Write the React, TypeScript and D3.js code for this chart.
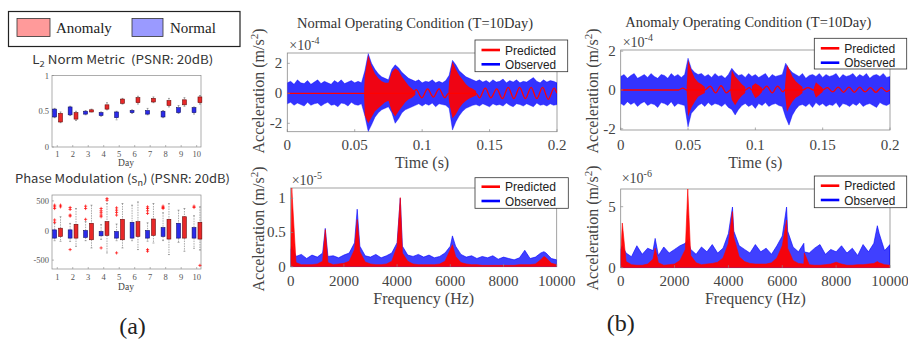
import React from 'react';
import * as d3 from 'd3';

const SERIF = '"Liberation Serif", "Times New Roman", serif';
const SANS = '"Noto Sans CJK KR", "Noto Sans", "DejaVu Sans", sans-serif';
const LSANS = '"Liberation Sans", Arial, sans-serif';

// ---------- (a) box plots ----------
const DAYS = [1, 2, 3, 4, 5, 6, 7, 8, 9, 10];
const DAY_LABELS = ['1', '2', '3', '4', '5', '6', '7', '8', '9', '10'];

const l2NormLo = [0.42, 0.45, 0.46, 0.44, 0.41, 0.48, 0.46, 0.42, 0.48, 0.48];
const l2NormHi = [0.53, 0.56, 0.5, 0.48, 0.49, 0.51, 0.51, 0.5, 0.55, 0.55];
const l2NormWLo = [0.41, 0.44, 0.45, 0.43, 0.38, 0.47, 0.45, 0.41, 0.47, 0.46];
const l2NormWHi = [0.54, 0.57, 0.51, 0.49, 0.5, 0.52, 0.54, 0.51, 0.58, 0.56];
const l2AnomLo = [0.35, 0.39, 0.49, 0.53, 0.61, 0.62, 0.63, 0.58, 0.59, 0.62];
const l2AnomHi = [0.47, 0.48, 0.52, 0.59, 0.67, 0.69, 0.68, 0.65, 0.66, 0.7];
const l2AnomWLo = [0.34, 0.37, 0.49, 0.52, 0.6, 0.6, 0.62, 0.56, 0.57, 0.6];
const l2AnomWHi = [0.49, 0.5, 0.53, 0.62, 0.68, 0.71, 0.7, 0.68, 0.69, 0.72];
const l2Ticks = [0, 0.5, 1];
const l2TickLabels = ['0', '0.5', '1'];

const phNormLo = [-128, -128, -117, -89, -128, -128, -128, -100, -128, -128];
const phNormHi = [11, 11, 0, -17, -17, 139, 0, 50, 122, 50];
const phNormWLo = [-172, -183, -172, -150, -172, -172, -180, -170, -200, -300];
const phNormWHi = [122, 120, 150, 100, 110, 428, 130, 300, 344, 250];
const phAnomLo = [-100, -128, -156, -83, -156, -100, -83, -144, -128, -144];
const phAnomHi = [39, 105, 122, 150, 189, 150, 194, 189, 233, 139];
const phAnomWLo = [-183, -267, -294, -378, -294, -322, -211, -406, -350, -330];
const phAnomWHi = [233, 372, 428, 456, 456, 483, 456, 456, 372, 400];
// [day, group (0 normal, 1 anomaly), value]
const phOutliers: [number, number, number][] = [
  [1, 0, 428], [1, 0, 400], [1, 0, 372], [1, 0, 178], [1, 0, 139], [1, 1, 428], [1, 1, 400],
  [2, 0, 389], [2, 0, 356], [2, 0, 261], [2, 0, 244], [2, 0, -322],
  [3, 0, 411], [3, 0, 372], [3, 0, 189],
  [4, 0, 372], [4, 0, 333], [4, 0, 300], [4, 0, 261], [4, 0, 233], [4, 0, -294], [4, 1, 539], [4, 1, 511],
  [5, 0, 383], [5, 0, 344], [5, 0, 306], [5, 0, 261], [5, 0, -378],
  [7, 0, 400], [7, 0, 372], [7, 0, 333], [7, 0, 289], [7, 0, -322], [7, 0, -350],
  [8, 0, 411], [8, 0, 389], [8, 0, 372],
  [10, 0, 411], [10, 0, 389], [10, 1, -589],
];
const phTicks = [-500, 0, 500];
const phTickLabels = ['-500', '0', '500'];

// ---------- (b) time signals, units 1e-4, sampled every TIME_STEP ----------
const TIME_STEP = 0.0025;
const timeTicks = [0, 0.05, 0.1, 0.15, 0.2];
const timeTickLabels = ['0', '0.05', '0.1', '0.15', '0.2'];

const normObsHi = [
  0.7, 0.8, 0.6, 0.9, 0.7, 0.65, 0.85, 0.6, 0.75, 0.9,
  0.65, 0.8, 0.7, 0.6, 0.85, 0.7, 0.9, 0.65, 0.75, 0.85,
  0.7, 0.8, 0.7, 1.5, 2.65, 2.0, 1.6, 1.3, 1.1, 1.0,
  0.9, 1.6, 1.9, 1.7, 1.4, 1.2, 1.0, 0.9, 0.8, 0.9,
  0.7, 0.8, 0.75, 0.9, 0.7, 0.8, 0.7, 0.85, 1.2, 2.2,
  1.9, 1.5, 1.3, 1.1, 1.0, 0.9, 0.8, 0.9, 0.75, 0.85,
  0.7, 0.9, 0.75, 0.8, 0.95, 0.7, 0.85, 0.75, 0.9, 0.7,
  0.8, 0.75, 0.9, 1.05, 0.8, 0.7, 0.9, 0.75, 0.85, 0.8, 0.7,
];
const normObsLo = [
  -0.7, -0.6, -0.8, -0.65, -0.75, -0.85, -0.6, -0.8, -0.7, -0.65,
  -0.85, -0.7, -0.6, -0.8, -0.75, -0.9, -0.65, -0.7, -0.85, -0.6,
  -0.75, -0.8, -0.7, -1.5, -2.55, -2.1, -1.6, -1.3, -1.1, -1.0,
  -0.9, -1.3, -2.0, -1.7, -1.3, -1.1, -1.0, -0.9, -0.8, -0.7,
  -0.85, -0.7, -0.8, -0.65, -0.9, -0.7, -0.75, -0.8, -1.0, -2.45,
  -1.9, -1.5, -1.2, -1.0, -0.9, -0.8, -0.75, -0.85, -0.7, -0.8,
  -0.9, -0.7, -0.8, -0.75, -0.85, -0.65, -0.8, -0.9, -0.7, -0.75,
  -0.85, -0.7, -0.8, -0.9, -0.65, -0.8, -0.75, -0.85, -0.7, -0.8, -0.75,
];
// predicted bursts: [t, upper, lower], null separates bursts
const normPredBand: ([number, number, number] | null)[] = [
  [0.057, 0.3, -0.3], [0.0575, 1.2, -1.5], [0.06, 2.55, -2.0], [0.0625, 1.8, -1.6], [0.065, 1.3, -1.2],
  [0.0675, 1.0, -1.0], [0.07, 0.8, -0.8], [0.0725, 0.7, -0.6], [0.075, 0.7, -0.5], [0.0775, 1.4, -1.2],
  [0.08, 1.67, -1.55], [0.0825, 1.5, -1.2], [0.085, 1.1, -0.9], [0.0875, 0.8, -0.6], [0.09, 0.5, -0.4],
  [0.0925, 0.3, -0.3], [0.095, 0.1, -0.1], null,
  [0.1195, 0.1, -0.1], [0.12, 0.8, -0.6], [0.1225, 2.1, -1.67], [0.125, 1.6, -1.4], [0.1275, 1.2, -1.0],
  [0.13, 0.9, -0.7], [0.1325, 0.6, -0.5], [0.135, 0.4, -0.35], [0.1375, 0.3, -0.25], [0.14, 0.15, -0.15],
];
// predicted low-frequency wave: [t, value] at its turning points
const normPredWave: [number, number][] = [
  [0, 0], [0.057, 0], [0.093, 0], [0.0955, 0.25], [0.0998, -0.3], [0.104, 0.3], [0.1083, -0.25],
  [0.1125, 0.3], [0.1168, -0.3], [0.1195, 0], [0.14, 0], [0.1425, -0.3], [0.1468, 0.35], [0.151, -0.3],
  [0.1553, 0.3], [0.1595, -0.35], [0.1638, 0.4], [0.168, -0.35], [0.1723, 0.4], [0.1765, -0.35],
  [0.1808, 0.4], [0.185, -0.35], [0.1893, 0.4], [0.1935, -0.4], [0.1978, 0.35], [0.2, 0],
];

const anomObsHi = [
  0.7, 0.8, 0.6, 0.75, 0.85, 0.6, 0.7, 0.8, 0.65, 0.85,
  0.7, 0.6, 0.8, 0.75, 0.6, 0.85, 0.7, 0.8, 0.65, 0.8,
  1.64, 1.1, 0.9, 0.8, 0.85, 0.7, 0.8, 0.65, 0.85, 0.7,
  0.75, 0.6, 0.8, 1.12, 0.9, 0.75, 0.8, 0.65, 0.85, 0.7,
  0.8, 0.65, 0.75, 0.85, 0.6, 0.8, 0.7, 0.75, 0.8, 1.38,
  1.1, 0.9, 0.8, 0.7, 0.85, 0.6, 0.75, 0.8, 0.7, 0.85,
  0.65, 0.8, 0.7, 0.75, 0.85, 0.6, 0.8, 0.7, 0.75, 0.85,
  0.65, 0.8, 0.7, 0.85, 0.6, 0.75, 0.8, 0.7, 0.85, 0.65, 0.7,
];
const anomObsLo = [
  -0.7, -0.8, -0.6, -0.75, -0.65, -0.85, -0.7, -0.6, -0.8, -0.7,
  -0.75, -0.9, -0.65, -0.7, -0.8, -0.6, -0.85, -0.7, -0.75, -0.8,
  -1.9, -1.2, -1.0, -0.8, -0.7, -0.85, -0.65, -0.8, -0.7, -0.75,
  -0.85, -0.7, -0.9, -1.0, -1.29, -1.0, -0.8, -0.7, -0.85, -0.75,
  -0.95, -0.7, -0.8, -0.65, -0.85, -0.75, -0.7, -0.8, -0.85, -1.4,
  -1.81, -1.3, -1.0, -0.8, -0.75, -0.85, -0.7, -0.9, -0.65, -0.8,
  -0.7, -0.85, -0.75, -0.8, -0.65, -0.9, -0.7, -0.75, -0.85, -0.7,
  -0.8, -0.65, -0.85, -0.75, -0.7, -0.8, -0.9, -0.65, -0.75, -0.8, -0.7,
];
const anomPredBand: ([number, number, number] | null)[] = [
  [0.049, 0.2, -0.1], [0.0495, 0.8, -0.6], [0.05, 1.55, -1.38], [0.0525, 1.0, -0.9], [0.055, 0.6, -0.6],
  [0.0575, 0.4, -0.35], [0.06, 0.3, -0.25], [0.0625, 0.15, -0.15], null,
  [0.0815, 0.1, -0.1], [0.0825, 1.03, -0.5], [0.085, 0.7, -0.78], [0.0875, 0.5, -0.5], [0.09, 0.3, -0.3],
  [0.0925, 0.15, -0.15], null,
  [0.0975, 0.2, -0.1], [0.1, 0.35, -0.43], [0.1025, 0.25, -0.3], [0.105, 0.1, -0.1], null,
  [0.122, 0.2, -0.2], [0.1235, 1.29, -1.12], [0.125, 1.1, -0.9], [0.1275, 0.7, -0.6], [0.13, 0.45, -0.4],
  [0.1325, 0.3, -0.3], [0.135, 0.15, -0.15], null,
  [0.1435, 0.1, -0.1], [0.145, 0.4, -0.4], [0.1475, 0.25, -0.25], [0.15, 0.1, -0.1],
];
const anomPredWave: [number, number][] = [
  [0, 0], [0.043, 0], [0.046, 0.1], [0.049, 0], [0.0625, 0], [0.0665, 0.2], [0.0705, -0.15], [0.0745, 0.22],
  [0.0785, -0.15], [0.0815, 0], [0.0925, 0], [0.0955, 0.12], [0.0975, 0], [0.105, 0], [0.1085, 0.2],
  [0.1125, -0.15], [0.1165, 0.2], [0.1205, -0.1], [0.122, 0], [0.135, 0], [0.139, 0.12], [0.1435, 0],
  [0.15, 0], [0.1535, 0.12], [0.1575, -0.1], [0.1615, 0.15], [0.1655, -0.12], [0.1695, 0.15],
  [0.1735, -0.12], [0.1775, 0.15], [0.1815, -0.1], [0.1855, 0.12], [0.1895, -0.12], [0.1935, 0.12],
  [0.1975, -0.08], [0.2, 0],
];

// ---------- (b) spectra, sampled every FREQ_STEP Hz plus resonance peaks ----------
const FREQ_STEP = 200;
const freqTicks = [0, 2000, 4000, 6000, 8000, 10000];
const freqTickLabels = ['0', '2000', '4000', '6000', '8000', '10000'];

// normal, units 1e-5
const normSpecObs = [
  0.25, 0.15, 0.18, 0.12, 0.17, 0.14, 0.2, 0.15, 0.16, 0.13,
  0.17, 0.2, 0.35, 0.3, 0.16, 0.14, 0.18, 0.13, 0.16, 0.2,
  0.35, 0.3, 0.17, 0.15, 0.18, 0.14, 0.17, 0.13, 0.15, 0.2,
  0.3, 0.3, 0.18, 0.14, 0.16, 0.12, 0.15, 0.13, 0.16, 0.11,
  0.14, 0.12, 0.1, 0.13, 0.24, 0.12, 0.14, 0.2, 0.2, 0.12, 0.1,
];
const normSpecPred = [
  0.1, 0.06, 0.03, 0.03, 0.03, 0.04, 0.08, 0.06, 0.03, 0.04,
  0.05, 0.08, 0.25, 0.22, 0.07, 0.04, 0.03, 0.03, 0.04, 0.08,
  0.3, 0.2, 0.08, 0.04, 0.03, 0.03, 0.03, 0.03, 0.04, 0.08,
  0.25, 0.15, 0.06, 0.04, 0.03, 0.03, 0.02, 0.02, 0.02, 0.02,
  0.02, 0.02, 0.02, 0.03, 0.03, 0.03, 0.04, 0.1, 0.13, 0.05, 0.03,
];
const normPeakF = [40, 1300, 2500, 4120, 6080, 9520];
const normPeakObs = [0.3, 0.56, 0.84, 1.0, 0.45, 0.22];
const normPeakPred = [1.15, 0.54, 0.69, 1.01, 0.32, 0.15];

// anomaly, units 1e-6
const anomSpecObs = [
  1.5, 1.2, 0.9, 1.8, 1.1, 1.6, 1.4, 1.0, 1.7, 1.2,
  1.5, 1.8, 2.0, 1.5, 1.1, 1.7, 1.3, 1.9, 1.2, 1.6,
  2.8, 3.0, 1.8, 1.5, 1.2, 1.9, 1.3, 1.6, 1.1, 1.8,
  2.6, 3.0, 1.7, 1.3, 2.0, 1.2, 1.6, 1.9, 1.1, 1.5,
  1.3, 1.8, 1.2, 1.6, 1.0, 1.9, 1.3, 2.0, 2.8, 1.4, 1.9,
];
const anomSpecPred = [
  0.9, 0.5, 0.25, 0.2, 0.2, 0.3, 0.7, 0.4, 0.2, 0.25,
  0.3, 0.6, 1.5, 1.0, 0.4, 0.25, 0.3, 0.35, 0.45, 0.8,
  2.0, 2.5, 0.9, 0.5, 0.35, 0.3, 0.3, 0.3, 0.4, 0.8,
  1.8, 1.6, 0.6, 0.35, 0.3, 0.25, 0.2, 0.2, 0.25, 0.3,
  0.45, 0.3, 0.2, 0.2, 0.25, 0.25, 0.3, 0.35, 0.4, 0.25, 0.2,
];
const anomPeakF = [60, 1280, 2490, 4150, 6160, 6820, 9530];
const anomPeakObs = [1.8, 2.4, 2.3, 4.97, 4.97, 1.3, 3.44];
const anomPeakPred = [3.66, 1.6, 6.45, 4.6, 3.9, 1.2, 0.5];

const RED = '#ff0000';
const BLUE = '#0000ff';
const AXIS = '#8a8a8a';

// ---------------- components ----------------
function BoxPanel(p: any) {
  const x = d3.scaleLinear().domain([0.66, 10.28]).range([52, 201]);
  const y = d3.scaleLinear().domain(p.yDomain).range([p.py1, p.py0]);
  const bw = x(0.25) - x(0);
  const offN = -0.17;
  const offA = 0.21;
  const box = (d: number, off: number, lo: number, hi: number, wlo: number, whi: number, fill: string, edge: string, k: string) => {
    const cx = x(d + off);
    return (
      <g key={k}>
        <line x1={cx} x2={cx} y1={y(whi)} y2={y(hi)} stroke="#555" strokeWidth={0.5} strokeDasharray="1.5,1" />
        <line x1={cx} x2={cx} y1={y(lo)} y2={y(wlo)} stroke="#555" strokeWidth={0.5} strokeDasharray="1.5,1" />
        <line x1={cx - bw * 0.25} x2={cx + bw * 0.25} y1={y(whi)} y2={y(whi)} stroke="#555" strokeWidth={0.5} />
        <line x1={cx - bw * 0.25} x2={cx + bw * 0.25} y1={y(wlo)} y2={y(wlo)} stroke="#555" strokeWidth={0.5} />
        <rect x={cx - bw / 2} y={y(hi)} width={bw} height={Math.max(1, y(lo) - y(hi))} fill={fill} stroke={edge} strokeWidth={0.6} />
      </g>
    );
  };
  return (
    <g>
      <rect x={52} y={p.py0} width={149} height={p.py1 - p.py0} fill="white" stroke={AXIS} strokeWidth={0.7} />
      {p.yTicks.map((t: number, i: number) => (
        <g key={'yt' + i}>
          <line x1={52} x2={54} y1={y(t)} y2={y(t)} stroke={AXIS} strokeWidth={0.6} />
          <text x={49} y={y(t) + 3} textAnchor="end" fontFamily={SERIF} fontSize={8.5} fill="#555">{p.yTickLabels[i]}</text>
        </g>
      ))}
      {DAYS.map((d, i) => (
        <g key={'xt' + i}>
          <line x1={x(d)} x2={x(d)} y1={p.py1} y2={p.py1 - 2} stroke={AXIS} strokeWidth={0.6} />
          <text x={x(d)} y={p.tickY} textAnchor="middle" fontFamily={SERIF} fontSize={8.5} fill="#555">{DAY_LABELS[i]}</text>
        </g>
      ))}
      {DAYS.map((d, i) => box(d, offN, p.nLo[i], p.nHi[i], p.nWLo[i], p.nWHi[i], '#2b2bea', '#10106a', 'n' + i))}
      {DAYS.map((d, i) => box(d, offA, p.aLo[i], p.aHi[i], p.aWLo[i], p.aWHi[i], '#e82828', '#6a0b0b', 'a' + i))}
      {(p.outliers || []).map((o: [number, number, number], i: number) => {
        const cx = x(o[0] + (o[1] === 0 ? offN : offA));
        const cy = y(o[2]);
        return <path key={'o' + i} d={`M${cx - 1.6},${cy}h3.2M${cx},${cy - 1.6}v3.2`} stroke={RED} strokeWidth={0.7} />;
      })}
      <text x={126} y={p.dayY} textAnchor="middle" fontFamily={SERIF} fontSize={9.5} fill="#444">Day</text>
    </g>
  );
}

function Legend({ x0, y0, x1, y1, l1, l2, t1, t2 }: any) {
  return (
    <g>
      <rect x={x0} y={y0} width={x1 - x0} height={y1 - y0} fill="white" stroke="#333" strokeWidth={0.8} />
      <line x1={x0 + 6.5} x2={x0 + 25} y1={l1} y2={l1} stroke={RED} strokeWidth={2.6} />
      <line x1={x0 + 6.5} x2={x0 + 25} y1={l2} y2={l2} stroke={BLUE} strokeWidth={2.6} />
      <text x={x0 + 30} y={t1} fontFamily={LSANS} fontSize={12} fill="#222" textLength={51} lengthAdjust="spacingAndGlyphs">Predicted</text>
      <text x={x0 + 30} y={t2} fontFamily={LSANS} fontSize={12} fill="#222" textLength={51} lengthAdjust="spacingAndGlyphs">Observed</text>
    </g>
  );
}

function YLabel({ x, y }: any) {
  return (
    <text transform={`translate(${x},${y}) rotate(-90)`} textAnchor="middle" fontFamily={SERIF} fontSize={16} fill="#444">
      Acceleration (m/s<tspan dy={-6} fontSize={11}>2</tspan><tspan dy={6}>)</tspan>
    </text>
  );
}

function TimePanel(p: any) {
  const x = d3.scaleLinear().domain([0, 0.2]).range([p.px0, p.px1]);
  const y = d3.scaleLinear().domain(p.yDomain).range([p.py1, p.py0]);
  const ts = p.obsHi.map((_: number, i: number) => i * TIME_STEP);
  const area = d3.area<number>().x((_, i) => x(ts[i])).y0((_, i) => y(p.obsLo[i])).y1((d) => y(d))(p.obsHi) || '';
  const band = d3.area<any>().defined((d) => d !== null).x((d) => x(d[0])).y0((d) => y(d[2])).y1((d) => y(d[1]))(p.band) || '';
  const wave = d3.line<[number, number]>().x((d) => x(d[0])).y((d) => y(d[1])).curve(d3.curveMonotoneX)(p.wave) || '';
  return (
    <g>
      <defs>
        <clipPath id={p.id}><rect x={p.px0} y={p.py0} width={p.px1 - p.px0} height={p.py1 - p.py0} /></clipPath>
      </defs>
      <rect x={p.px0} y={p.py0} width={p.px1 - p.px0} height={p.py1 - p.py0} fill="white" stroke={AXIS} strokeWidth={0.8} />
      <g clipPath={`url(#${p.id})`}>
        <path d={area} fill={BLUE} fillOpacity={0.8} stroke={BLUE} strokeOpacity={0.45} strokeWidth={0.8} />
        <path d={wave} fill="none" stroke={RED} strokeWidth={1.3} />
        <path d={band} fill={RED} fillOpacity={0.92} />
      </g>
      {timeTicks.map((t, i) => (
        <g key={'xt' + i}>
          <line x1={x(t)} x2={x(t)} y1={p.py1} y2={p.py1 - 2.5} stroke={AXIS} strokeWidth={0.7} />
          <text x={x(t)} y={150} textAnchor="middle" fontFamily={SERIF} fontSize={15} fill="#444">{timeTickLabels[i]}</text>
        </g>
      ))}
      {p.yTicks.map((t: number, i: number) => (
        <g key={'yt' + i}>
          <line x1={p.px0} x2={p.px0 + 2.5} y1={y(t)} y2={y(t)} stroke={AXIS} strokeWidth={0.7} />
          <text x={p.px0 - 5} y={y(t) + 5} textAnchor="end" fontFamily={SERIF} fontSize={15} fill="#444">{p.yTickLabels[i]}</text>
        </g>
      ))}
      <text x={p.px0 + 2} y={p.expY} fontFamily={SERIF} fontSize={14} fill="#444">×10<tspan dy={-6} fontSize={10}>{p.exp}</tspan></text>
      <text x={(p.px0 + p.px1) / 2} y={168} textAnchor="middle" fontFamily={SERIF} fontSize={16} fill="#444">Time (s)</text>
    </g>
  );
}

function SpecPanel(p: any) {
  const x = d3.scaleLinear().domain([0, 10000]).range([p.px0, p.px1]);
  const y = d3.scaleLinear().domain(p.yDomain).range([p.py1, p.py0]);
  const pts = p.obs
    .map((v: number, i: number) => ({ f: i * FREQ_STEP, o: v, q: p.pred[i] }))
    .concat(p.peakF.map((f: number, i: number) => ({ f, o: p.peakObs[i], q: p.peakPred[i] })))
    .sort((a: any, b: any) => a.f - b.f);
  const obsArea = d3.area<any>().x((d) => x(d.f)).y0(y(0)).y1((d) => y(d.o))(pts) || '';
  const predArea = d3.area<any>().x((d) => x(d.f)).y0(y(0)).y1((d) => y(d.q))(pts) || '';
  return (
    <g>
      <defs>
        <clipPath id={p.id}><rect x={p.px0} y={p.py0} width={p.px1 - p.px0} height={p.py1 - p.py0} /></clipPath>
      </defs>
      <rect x={p.px0} y={p.py0} width={p.px1 - p.px0} height={p.py1 - p.py0} fill="white" stroke={AXIS} strokeWidth={0.8} />
      <g clipPath={`url(#${p.id})`}>
        <path d={obsArea} fill={BLUE} fillOpacity={0.75} stroke={BLUE} strokeWidth={0.6} />
        <path d={predArea} fill={RED} fillOpacity={0.95} stroke={RED} strokeWidth={0.6} />
      </g>
      {freqTicks.map((t, i) => (
        <g key={'xt' + i}>
          <line x1={x(t)} x2={x(t)} y1={p.py1} y2={p.py1 - 2.5} stroke={AXIS} strokeWidth={0.7} />
          <text x={x(t)} y={286} textAnchor="middle" fontFamily={SERIF} fontSize={15} fill="#444">{freqTickLabels[i]}</text>
        </g>
      ))}
      {p.yTicks.map((t: number, i: number) => (
        <g key={'yt' + i}>
          <line x1={p.px0} x2={p.px0 + 2.5} y1={y(t)} y2={y(t)} stroke={AXIS} strokeWidth={0.7} />
          <text x={p.px0 - 5} y={y(t) + 5} textAnchor="end" fontFamily={SERIF} fontSize={15} fill="#444">{p.yTickLabels[i]}</text>
        </g>
      ))}
      <text x={p.px0 + 1} y={p.expY} fontFamily={SERIF} fontSize={14} fill="#444">×10<tspan dy={-6} fontSize={10}>{p.exp}</tspan></text>
      <text x={(p.px0 + p.px1) / 2} y={304} textAnchor="middle" fontFamily={SERIF} fontSize={16} fill="#444">Frequency (Hz)</text>
    </g>
  );
}

export default function App() {
  return (
    <svg width={908} height={342} style={{ position: 'absolute', left: 0, top: 0, display: 'block', background: 'white' }}>
      <rect x={0} y={0} width={908} height={342} fill="white" />
      {/* top-left legend */}
      <rect x={8.5} y={11.5} width={231.5} height={35} fill="white" stroke="#222" strokeWidth={1.2} />
      <rect x={17} y={18.5} width={33} height={18} fill="#ff9a9a" stroke="#333" strokeWidth={0.8} />
      <text x={56} y={33.3} fontFamily={SERIF} fontSize={15} fill="#222">Anomaly</text>
      <rect x={132} y={18.5} width={31} height={18} fill="#9a9aff" stroke="#333" strokeWidth={0.8} />
      <text x={170} y={33.3} fontFamily={SERIF} fontSize={15} fill="#222">Normal</text>

      <text x={32.3} y={64.3} fontFamily={SANS} fontSize={11.5} fill="#333" textLength={181} lengthAdjust="spacingAndGlyphs" style={{ whiteSpace: 'pre' }}>
        L<tspan dy={2.5} fontSize={8}>2</tspan><tspan dy={-2.5}>{' Norm Metric  (PSNR: 20dB)'}</tspan>
      </text>
      <BoxPanel py0={75.5} py1={147} yDomain={[0, 1]} yTicks={l2Ticks} yTickLabels={l2TickLabels}
        nLo={l2NormLo} nHi={l2NormHi} nWLo={l2NormWLo} nWHi={l2NormWHi}
        aLo={l2AnomLo} aHi={l2AnomHi} aWLo={l2AnomWLo} aWHi={l2AnomWHi} tickY={157} dayY={166} />

      <text x={15} y={183.3} fontFamily={SANS} fontSize={11.5} fill="#333" textLength={215} lengthAdjust="spacingAndGlyphs" style={{ whiteSpace: 'pre' }}>
        Phase Modulation (s<tspan dy={2.5} fontSize={8}>n</tspan><tspan dy={-2.5}>) (PSNR: 20dB)</tspan>
      </text>
      <BoxPanel py0={195} py1={269} yDomain={[-650, 600]} yTicks={phTicks} yTickLabels={phTickLabels}
        nLo={phNormLo} nHi={phNormHi} nWLo={phNormWLo} nWHi={phNormWHi}
        aLo={phAnomLo} aHi={phAnomHi} aWLo={phAnomWLo} aWHi={phAnomWHi} outliers={phOutliers} tickY={279.5} dayY={289.5} />

      <text x={132.5} y={334} textAnchor="middle" fontFamily={SERIF} fontSize={24} fill="#222">(a)</text>
      <text x={620.8} y={331} textAnchor="middle" fontFamily={SERIF} fontSize={24} fill="#222">(b)</text>

      {/* titles */}
      <text x={415} y={28.3} textAnchor="middle" fontFamily={SERIF} fontSize={14.5} fill="#333" textLength={236} lengthAdjust="spacingAndGlyphs">Normal Operating Condition (T=10Day)</text>
      <text x={748.3} y={27.3} textAnchor="middle" fontFamily={SERIF} fontSize={14.5} fill="#333" textLength={246} lengthAdjust="spacingAndGlyphs">Anomaly Operating Condition (T=10Day)</text>

      <TimePanel id="ctn" px0={287.3} px1={557} py0={53} py1={131.7} yDomain={[-2.56, 2.69]} yTicks={[-2, 0, 2]} yTickLabels={['-2', '0', '2']}
        obsHi={normObsHi} obsLo={normObsLo} band={normPredBand} wave={normPredWave} exp="-4" expY={50} />
      <TimePanel id="cta" px0={620.7} px1={890} py0={50} py1={130} yDomain={[-2.06, 2.06]} yTicks={[-2, 0, 2]} yTickLabels={['-2', '0', '2']}
        obsHi={anomObsHi} obsLo={anomObsLo} band={anomPredBand} wave={anomPredWave} exp="-4" expY={46.7} />
      <SpecPanel id="cfn" px0={290.7} px1={556.7} py0={188} py1={266.7} yDomain={[0, 1.15]} yTicks={[0, 0.5, 1]} yTickLabels={['0', '0.5', '1']}
        obs={normSpecObs} pred={normSpecPred} peakF={normPeakF} peakObs={normPeakObs} peakPred={normPeakPred} exp="-5" expY={185} />
      <SpecPanel id="cfa" px0={620.7} px1={890} py0={189} py1={267.7} yDomain={[0, 6.45]} yTicks={[0, 5]} yTickLabels={['0', '5']}
        obs={anomSpecObs} pred={anomSpecPred} peakF={anomPeakF} peakObs={anomPeakObs} peakPred={anomPeakPred} exp="-6" expY={183.3} />

      <YLabel x={264} y={91} />
      <YLabel x={263.5} y={229} />
      <YLabel x={597.5} y={91} />
      <YLabel x={597.5} y={228} />

      <Legend x0={475} y0={40} x1={567.7} y1={71.7} l1={50} l2={64.3} t1={54.5} t2={68.8} />
      <Legend x0={814.3} y0={38.3} x1={906.7} y1={69} l1={48.3} l2={62.7} t1={53} t2={67.3} />
      <Legend x0={475} y0={177.7} x1={568.3} y1={208.3} l1={186.7} l2={201} t1={191} t2={205.5} />
      <Legend x0={814.3} y0={176} x1={906.7} y1={207.7} l1={185.7} l2={200} t1={190} t2={204.5} />
    </svg>
  );
}
